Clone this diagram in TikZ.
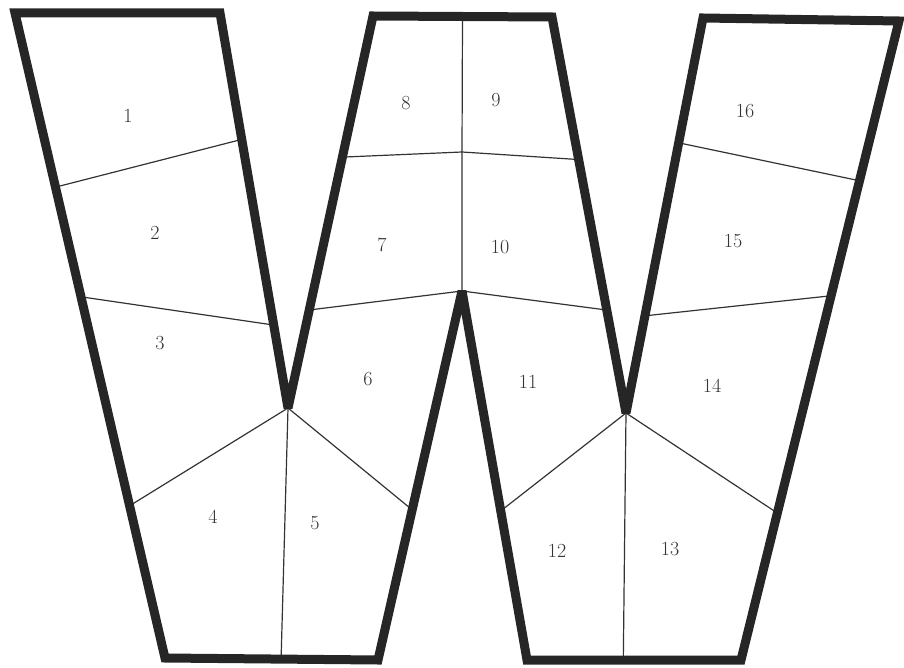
\documentclass[tikz,border=0pt]{standalone}
\usetikzlibrary{calc}

\begin{document}
\begin{tikzpicture}[
    x=1pt, y=-1pt,
    outline/.style={line width=9pt, line join=miter, miter limit=2, draw=black!85},
    divider/.style={line width=1.2pt, draw=black!80},
    piece label/.style={font=\fontsize{20}{22}\selectfont, text=black!80}
]
    \useasboundingbox (0,0) rectangle (904,668);

    % Outline corners
    \coordinate (tl1) at (15,13);
    \coordinate (tl2) at (220,13);
    \coordinate (vl) at (288,408);
    \coordinate (tm1) at (373,16);
    \coordinate (tm2) at (552,17);
    \coordinate (vr) at (626,413);
    \coordinate (tr1) at (703,18);
    \coordinate (tr2) at (899,21);
    \coordinate (br2) at (741,660);
    \coordinate (br1) at (527,660);
    \coordinate (apex) at (462,291);
    \coordinate (bm2) at (378,660);
    \coordinate (bm1) at (165,658);
    \coordinate (mid) at (462,152);

    % Dividing lines
    \draw[divider] ($(tl1)!0.27!(bm1)$) -- ($(tl2)!0.32!(vl)$);
    \draw[divider] ($(tl1)!0.44!(bm1)$) -- ($(tl2)!0.79!(vl)$);
    \draw[divider] ($(tl1)!0.764!(bm1)$) -- (vl);
    \draw[divider] (vl) -- ($(bm1)!0.545!(bm2)$);
    \draw[divider] (vl) -- ($(apex)!0.593!(bm2)$);
    \draw[divider] ($(tm1)!0.75!(vl)$) -- (apex);
    \draw[divider] ($(tm1)!0.36!(vl)$) -- (mid) -- ($(tm2)!0.36!(vr)$);
    \draw[divider] ($(tm1)!0.5!(tm2)$) -- (mid) -- (apex);
    \draw[divider] (apex) -- ($(tm2)!0.74!(vr)$);
    \draw[divider] (vr) -- ($(apex)!0.596!(br1)$);
    \draw[divider] (vr) -- ($(br1)!0.45!(br2)$);
    \draw[divider] (vr) -- ($(tr2)!0.77!(br2)$);
    \draw[divider] ($(tr1)!0.754!(vr)$) -- ($(tr2)!0.43!(br2)$);
    \draw[divider] ($(tr1)!0.316!(vr)$) -- ($(tr2)!0.25!(br2)$);

    % W outline
    \draw[outline] (tl1) -- (tl2) -- (vl) -- (tm1) -- (tm2) -- (vr) -- (tr1)
        -- (tr2) -- (br2) -- (br1) -- (apex) -- (bm2) -- (bm1) -- cycle;

    % Piece numbers
    \node[piece label] (n1) at (128,116) {1};
    \node[piece label] (n2) at (155,233) {2};
    \node[piece label] (n3) at (160,343) {3};
    \node[piece label] (n4) at (213,517) {4};
    \node[piece label] (n5) at (315,523) {5};
    \node[piece label] (n6) at (368,379) {6};
    \node[piece label] (n7) at (382,245) {7};
    \node[piece label] (n8) at (406,103) {8};
    \node[piece label] (n9) at (496,100) {9};
    \node[piece label] (n10) at (500,247) {10};
    \node[piece label] (n11) at (528,382) {11};
    \node[piece label] (n12) at (557,551) {12};
    \node[piece label] (n13) at (670,549) {13};
    \node[piece label] (n14) at (712,386) {14};
    \node[piece label] (n15) at (733,241) {15};
    \node[piece label] (n16) at (745,111) {16};
\end{tikzpicture}
\end{document}
